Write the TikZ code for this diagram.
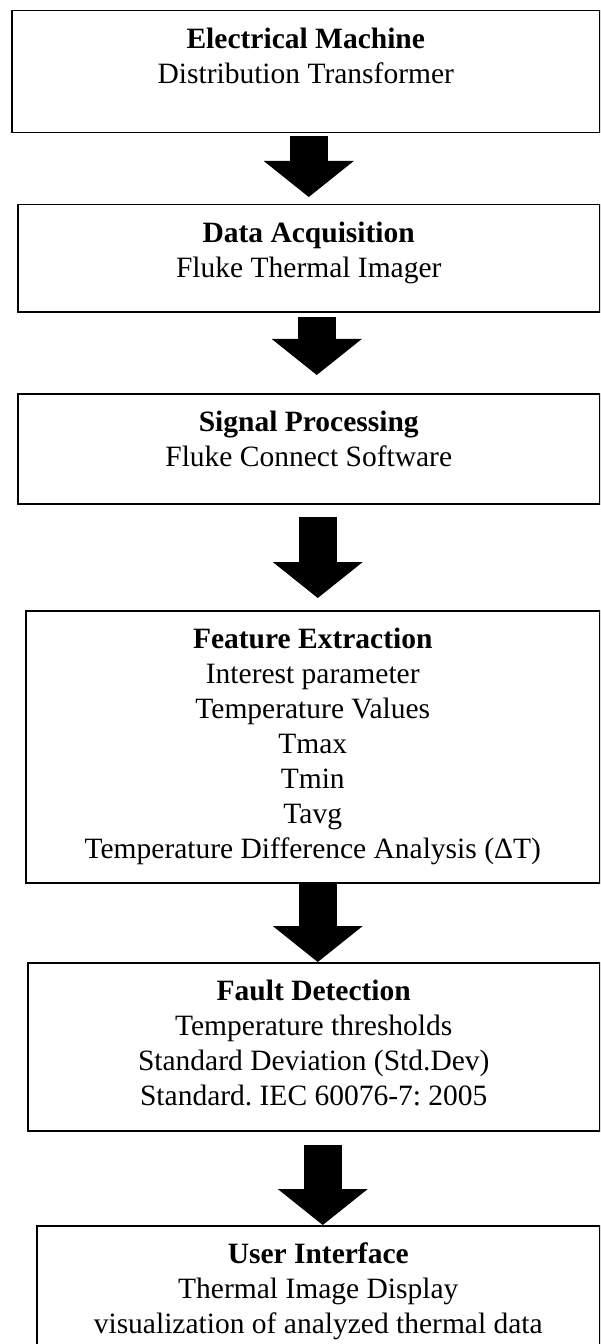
\documentclass[tikz,border=0pt]{standalone}
\usepackage{fontspec}
\setmainfont{Liberation Serif}
\usetikzlibrary{arrows.meta}
\frenchspacing

\begin{document}
\begin{tikzpicture}[x=0.4pt, y=-0.4pt,
        block/.style={draw, line width=0.6pt, anchor=north west, inner sep=0pt},
        caption/.style={anchor=north, align=center, inner sep=0pt, yshift=-7pt,
                        font=\fontsize{11.8}{14}\selectfont},
        flow/.style={line width=15.2pt, -{Triangle[width=36pt, length=14.4pt, line width=0pt]}}
    ]
    \useasboundingbox (0,0) rectangle (600,1344);
    \clip (0,0) rectangle (600,1344);

    \node [block, minimum width=235.2pt, minimum height=48.8pt] (machine) at (11,10) {};
    \node [caption] (machine-text) at (machine.north) {\textbf{Electrical Machine}\\Distribution Transformer};

    \node [block, minimum width=232.8pt, minimum height=42.8pt] (acquisition) at (17,204) {};
    \node [caption] (acquisition-text) at (acquisition.north) {\textbf{Data Acquisition}\\Fluke Thermal Imager};

    \node [block, minimum width=232.8pt, minimum height=44pt] (processing) at (17,393) {};
    \node [caption] (processing-text) at (processing.north) {\textbf{Signal Processing}\\Fluke Connect Software};

    \node [block, minimum width=229.6pt, minimum height=108.8pt] (extraction) at (25,610) {};
    \node [caption] (extraction-text) at (extraction.north) {\textbf{Feature Extraction}\\Interest parameter\\Temperature Values\\Tmax\\Tmin\\Tavg\\Temperature Difference Analysis (ΔT)};

    \node [block, minimum width=228.8pt, minimum height=67.2pt] (detection) at (27,962) {};
    \node [caption] (detection-text) at (detection.north) {\textbf{Fault Detection}\\Temperature thresholds\\Standard Deviation (Std.Dev)\\Standard. IEC 60076-7: 2005};

    \node [block, minimum width=225.2pt, minimum height=56pt] (interface) at (36,1225) {};
    \node [caption] (interface-text) at (interface.north) {\textbf{User Interface}\\Thermal Image Display\\visualization of analyzed thermal data};

    % block arrows between the stages
    \draw [flow, shorten <=1.2pt, shorten >=2.8pt] ([xshift=1.2pt]machine.south) coordinate (t1) -- (t1 |- acquisition.north);
    \draw [flow, shorten <=1.6pt, shorten >=7.2pt] ([xshift=3.2pt]acquisition.south) coordinate (t2) -- (t2 |- processing.north);
    \draw [flow, shorten <=4.8pt, shorten >=4.8pt] ([xshift=3.6pt]processing.south) coordinate (t3) -- (t3 |- extraction.north);
    \draw [flow] ([xshift=2pt]extraction.south) coordinate (t4) -- (t4 |- detection.north);
    \draw [flow, shorten <=5.2pt] ([xshift=3.6pt]detection.south) coordinate (t5) -- (t5 |- interface.north);
\end{tikzpicture}
\end{document}
